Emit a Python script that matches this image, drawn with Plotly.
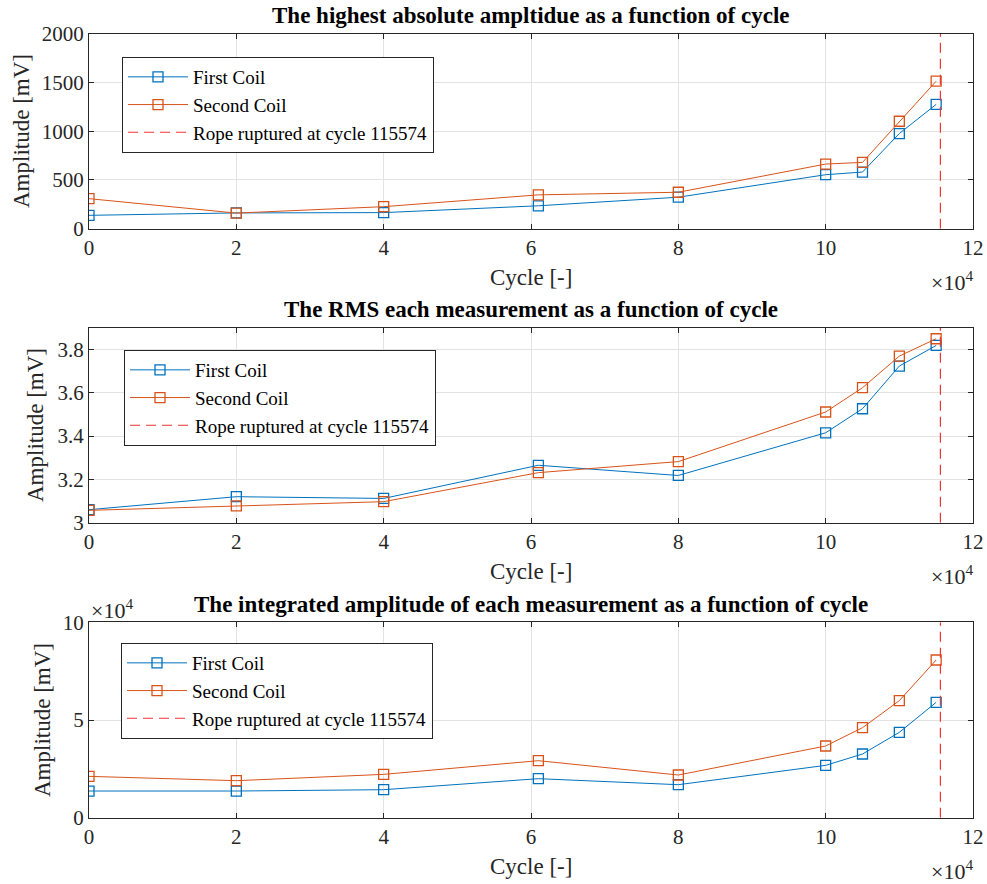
import plotly.graph_objects as go

# Measurement cycles and the cycle at which the rope failed
cycles = [0, 20000, 40000, 61000, 80000, 100000, 105000, 110000, 115000]
rupture_cycle = 115574

# Highest absolute amplitude [mV]
peak_first = [137, 162, 165, 235, 323, 554, 581, 976, 1275]
peak_second = [308, 160, 226, 347, 374, 663, 680, 1102, 1513]

# RMS of each measurement [mV]
rms_first = [3.060, 3.120, 3.112, 3.265, 3.218, 3.415, 3.526, 3.723, 3.818]
rms_second = [3.057, 3.078, 3.097, 3.231, 3.282, 3.511, 3.623, 3.769, 3.849]

# Integrated amplitude of each measurement [mV]
integ_first = [13650, 13650, 14330, 19970, 16890, 26790, 32590, 43690, 59040]
integ_second = [21160, 18940, 22180, 29180, 21840, 36690, 46080, 59900, 80700]

titles = [
    "The highest absolute ampltidue as a function of cycle",
    "The RMS each measurement as a function of cycle",
    "The integrated amplitude of each measurement as a function of cycle",
]
x_tickvals = [0, 20000, 40000, 60000, 80000, 100000, 120000]
x_ticktext = ["0", "2", "4", "6", "8", "10", "12"]

y_ranges = [[0, 2000], [3.0, 3.9], [0, 100000]]
y_tickvals = [[0, 500, 1000, 1500, 2000], [3.0, 3.2, 3.4, 3.6, 3.8], [0, 50000, 100000]]
y_ticktext = [["0", "500", "1000", "1500", "2000"], ["3", "3.2", "3.4", "3.6", "3.8"], ["0", "5", "10"]]

series = [(peak_first, peak_second), (rms_first, rms_second), (integ_first, integ_second)]

W, H = 987, 884
BLUE = "#0072BD"
ORANGE = "#D95319"
RED = "#F03535"
AX = "#262626"
FONT = "Liberation Serif, Times New Roman, serif"

# Pixel layout of the three panels
x_px = (89, 973)
panels_px = [(33.7, 228.7), (327.7, 522.7), (622.3, 817.7)]
legend_px = [(122, 57), (124, 350), (121, 643)]

fig = go.Figure()

for i, ((first, second), yr) in enumerate(zip(series, y_ranges)):
    n = "" if i == 0 else str(i + 1)
    xa, ya = "x" + n, "y" + n
    lg = "legend" + n
    marker = dict(symbol="square-open", size=10, line=dict(width=1.3))
    fig.add_trace(go.Scatter(
        x=cycles, y=first, mode="lines+markers", name="First Coil",
        line=dict(color=BLUE, width=1), marker=dict(color=BLUE, **marker),
        xaxis=xa, yaxis=ya, legend=lg))
    fig.add_trace(go.Scatter(
        x=cycles, y=second, mode="lines+markers", name="Second Coil",
        line=dict(color=ORANGE, width=1), marker=dict(color=ORANGE, **marker),
        xaxis=xa, yaxis=ya, legend=lg))
    fig.add_trace(go.Scatter(
        x=[rupture_cycle, rupture_cycle], y=yr, mode="lines",
        name=f"Rope ruptured at cycle {rupture_cycle}",
        line=dict(color=RED, width=1.2, dash="10px,6px"),
        xaxis=xa, yaxis=ya, legend=lg))

layout = dict(
    width=W, height=H,
    margin=dict(l=0, r=0, t=0, b=0, autoexpand=False),
    paper_bgcolor="white", plot_bgcolor="white",
    font=dict(family=FONT, color=AX, size=21),
    annotations=[],
)

axis_common = dict(
    showline=True, linecolor=AX, linewidth=1, mirror="ticks",
    ticks="inside", ticklen=5, tickcolor=AX, tickwidth=1,
    showgrid=True, gridcolor="#E3E3E3", gridwidth=1,
    zeroline=False, automargin=False,
    tickfont=dict(family=FONT, size=21, color=AX),
)

for i, (top, bot) in enumerate(panels_px):
    n = "" if i == 0 else str(i + 1)
    ydom = [1 - bot / H, 1 - top / H]
    layout["xaxis" + n] = dict(
        axis_common, domain=[x_px[0] / W, x_px[1] / W], range=[0, 120000],
        tickvals=x_tickvals, ticktext=x_ticktext, anchor="y" + n,
    )
    layout["yaxis" + n] = dict(
        axis_common, domain=ydom, range=y_ranges[i],
        tickvals=y_tickvals[i], ticktext=y_ticktext[i], anchor="x" + n,
    )
    lx, ly = legend_px[i]
    layout["legend" + n] = dict(
        x=lx / W, y=1 - ly / H, xanchor="left", yanchor="top",
        xref="paper", yref="paper",
        bgcolor="white", bordercolor=AX, borderwidth=1,
        font=dict(family=FONT, size=19, color="black"),
        itemwidth=60, tracegroupgap=0,
    )
    # panel title
    layout["annotations"].append(dict(
        text=titles[i], x=(x_px[0] + x_px[1]) / 2 / W, y=1 - (top - 18) / H,
        xref="paper", yref="paper", xanchor="center", yanchor="middle",
        showarrow=False, font=dict(family=FONT, size=23, color="black", weight="bold"),
    ))
    # x axis label
    layout["annotations"].append(dict(
        text="Cycle [-]", x=(x_px[0] + x_px[1]) / 2 / W, y=1 - (bot + 49) / H,
        xref="paper", yref="paper", xanchor="center", yanchor="middle",
        showarrow=False, font=dict(family=FONT, size=23, color=AX),
    ))
    # x exponent
    layout["annotations"].append(dict(
        text="×10<sup>4</sup>", x=975 / W, y=1 - (bot + 52) / H,
        xref="paper", yref="paper", xanchor="right", yanchor="middle",
        showarrow=False, font=dict(family=FONT, size=22, color=AX),
    ))

# y axis labels
ylab_px = [(21, 131), (35, 425), (42, 720)]
for (cx, cy) in ylab_px:
    layout["annotations"].append(dict(
        text="Amplitude [mV]", x=cx / W, y=1 - cy / H,
        xref="paper", yref="paper", xanchor="center", yanchor="middle",
        textangle=-90, showarrow=False, font=dict(family=FONT, size=23, color=AX),
    ))

# y exponent of the bottom panel
layout["annotations"].append(dict(
    text="×10<sup>4</sup>", x=89 / W, y=1 - 609 / H,
    xref="paper", yref="paper", xanchor="left", yanchor="middle",
    showarrow=False, font=dict(family=FONT, size=22, color=AX),
))

fig.update_layout(**layout)
fig.write_html("out.html")
